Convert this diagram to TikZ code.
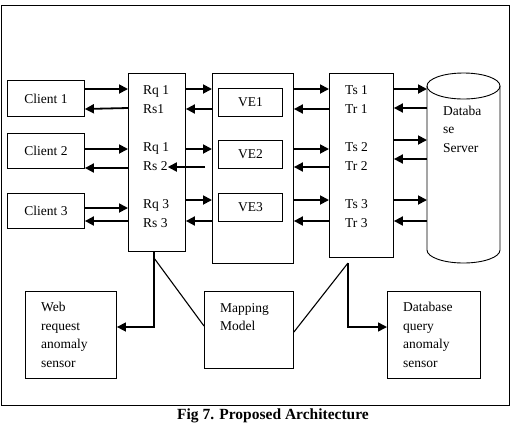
\documentclass[tikz,border=0pt]{standalone}
\usepackage{fontspec}
\setmainfont{Liberation Serif}
\usetikzlibrary{arrows.meta}

\begin{document}
\begin{tikzpicture}
[
    x=1pt, y=-1pt,
    box/.style={draw, line width=0.9pt, inner sep=0pt, anchor=north west,
        font=\fontsize{13.5}{18.5}\selectfont},
    txt/.style={anchor=base west, inner sep=0pt, align=left,
        font=\fontsize{13.5}{18.5}\selectfont},
    flow/.style={line width=1.8pt, -{Triangle[length=9pt,width=9pt]}},
    lead/.style={line width=1.5pt, -{Triangle[length=9pt,width=9pt]}},
    wire/.style={line width=1.1pt},
]
\useasboundingbox (0,0) rectangle (514,424);
\node [box, line width=1.3pt, minimum width=508pt, minimum height=400pt] (frame) at (1,5) {};

% clients
\node [box, minimum width=77pt, minimum height=36pt] (c1) at (7,80) {Client 1};
\node [box, minimum width=77pt, minimum height=35pt] (c2) at (7,133) {Client 2};
\node [box, minimum width=77pt, minimum height=35pt] (c3) at (7,193) {Client 3};

% request / response box
\node [box, minimum width=57pt, minimum height=178pt] (rq) at (128,73) {};
\node [txt] (rq1) at (143,94) {Rq 1};
\node [txt] (rs1) at (143,113) {Rs1};
\node [txt] (rq2) at (143,151) {Rq 1};
\node [txt] (rs2) at (143,170) {Rs 2};
\node [txt] (rq3) at (143,208) {Rq 3};
\node [txt] (rs3) at (143,227) {Rs 3};

% VE box
\node [box, minimum width=81pt, minimum height=190pt] (ve) at (212,73) {};
\node [box, minimum width=64pt, minimum height=28pt] (ve1) at (218,88) {VE1};
\node [box, minimum width=64pt, minimum height=28pt] (ve2) at (218,140) {VE2};
\node [box, minimum width=64pt, minimum height=28pt] (ve3) at (218,193) {VE3};

% transaction box
\node [box, minimum width=64pt, minimum height=184pt] (ts) at (329,73) {};
\node [txt] (ts1) at (345,94) {Ts 1};
\node [txt] (tr1) at (345,113) {Tr 1};
\node [txt] (ts2) at (345,151) {Ts 2};
\node [txt] (tr2) at (345,170) {Tr 2};
\node [txt] (ts3) at (345,208) {Ts 3};
\node [txt] (tr3) at (345,227) {Tr 3};

% database server
\draw [line width=0.9pt] (463.5,86) ellipse [x radius=36.5, y radius=13];
\draw [line width=0.9pt] (427,86) -- (427,250)
    arc [start angle=180, end angle=0, x radius=36.5, y radius=13] -- (500,86);
\coordinate (db) at (427,86);
\node [txt] (dbtxt) at (443,152) {Databa\\se\\Server};

% sensors and mapping
\node [box, minimum width=91pt, minimum height=87pt] (web) at (25,291) {};
\node [txt] (webtxt) at (41,367) {Web\\request\\anomaly\\sensor};
\node [box, minimum width=89pt, minimum height=77pt] (map) at (204,291) {};
\node [txt] (maptxt) at (220,330.5) {Mapping\\Model};
\node [box, minimum width=93pt, minimum height=87pt] (dbq) at (387,291) {};
\node [txt] (dbqtxt) at (403,367) {Database\\query\\anomaly\\sensor};

% client <-> rq
\draw [flow] (c1.east |- 0,89) -- (rq.west |- 0,89);
\draw [flow] (rq.west |- 0,108) -- (c1.east |- 0,109);
\draw [flow] (c2.east |- 0,149) -- (rq.west |- 0,149);
\draw [flow] (rq.west |- 0,168) -- (c2.east |- 0,168);
\draw [flow] (c3.east |- 0,208) -- (rq.west |- 0,208);
\draw [flow] (rq.west |- 0,221) -- (c3.east |- 0,221);

% rq <-> ve
\draw [flow] (rq.east |- 0,89) -- (ve.west |- 0,89);
\draw [flow] (ve.west |- 0,109) -- (rq.east |- 0,109);
\draw [flow] (rq.east |- 0,149) -- (ve.west |- 0,149);
\draw [flow] (205,167) -- (rs2.east |- 0,167);
\draw [flow] (rq.east |- 0,200) -- (ve.west |- 0,200);
\draw [flow] (ve.west |- 0,221) -- (rq.east |- 0,221);

% ve <-> ts
\draw [flow] (ve.east |- 0,89) -- (ts.west |- 0,89);
\draw [flow] (ts.west |- 0,109) -- (ve.east |- 0,109);
\draw [flow] (ve.east |- 0,149) -- (ts.west |- 0,149);
\draw [flow] (ts.west |- 0,167) -- (ve.east |- 0,167);
\draw [flow] (ve.east |- 0,200) -- (ts.west |- 0,200);
\draw [flow] (ts.west |- 0,221) -- (ve.east |- 0,221);

% ts <-> database
\draw [flow] (ts.east |- 0,89) -- (db |- 0,89);
\draw [flow] (db |- 0,108) -- (ts.east |- 0,108);
\draw [flow] (ts.east |- 0,140) -- (db |- 0,140);
\draw [flow] (db |- 0,159) -- (ts.east |- 0,159);
\draw [flow] (ts.east |- 0,200) -- (db |- 0,200);
\draw [flow] (db |- 0,221) -- (ts.east |- 0,221);

% links to sensors
\coordinate (rqfoot) at (154,258);
\coordinate (tsfoot) at (348,263);
\draw [lead] (rq.south -| 154,0) -- (154,327) -- (web.east |- 0,327);
\draw [wire] (rqfoot) -- (map.west |- 0,326);
\draw [wire] (map.east |- 0,332) -- (tsfoot);
\draw [lead] (tsfoot) -- (348,327) -- (dbq.west |- 0,327);

\node [anchor=north, inner sep=0pt, font=\bfseries\fontsize{15.5}{17}\selectfont] (cap) at (273,409) {Fig 7. Proposed Architecture};
\end{tikzpicture}
\end{document}
